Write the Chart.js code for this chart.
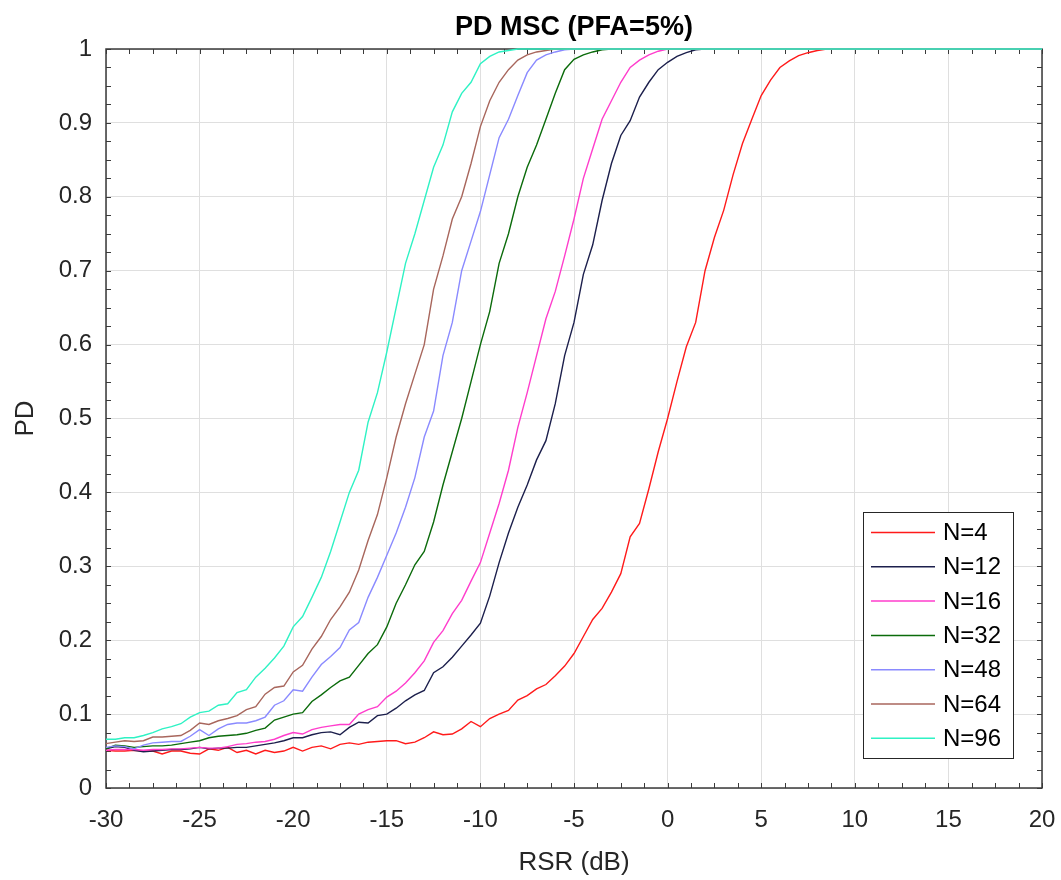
<!DOCTYPE html>
<html>
<head>
<meta charset="utf-8">
<script src="https://cdn.jsdelivr.net/npm/chart.js@4.4.1/dist/chart.umd.min.js"></script>
<style>
  body { margin:0; background:#fff; }
  #wrap { width:1061px; height:880px; position:relative; }
</style>
</head>
<body>
<div id="wrap"><canvas id="pdChart"></canvas></div>
<script>
// RSR axis (dB), 0.5 dB steps
const rsr = [
  -30,-29.5,-29,-28.5,-28,-27.5,-27,-26.5,-26,-25.5,
  -25,-24.5,-24,-23.5,-23,-22.5,-22,-21.5,-21,-20.5,
  -20,-19.5,-19,-18.5,-18,-17.5,-17,-16.5,-16,-15.5,
  -15,-14.5,-14,-13.5,-13,-12.5,-12,-11.5,-11,-10.5,
  -10,-9.5,-9,-8.5,-8,-7.5,-7,-6.5,-6,-5.5,
  -5,-4.5,-4,-3.5,-3,-2.5,-2,-1.5,-1,-0.5,
  0,0.5,1,1.5,2,2.5,3,3.5,4,4.5,
  5,5.5,6,6.5,7,7.5,8,8.5,9,9.5,
  10,10.5,11,11.5,12,12.5,13,13.5,14,14.5,
  15,15.5,16,16.5,17,17.5,18,18.5,19,19.5,
  20
];

const pdN4 = [
  .051,.050,.050,.051,.050,.050,.046,.050,.050,.047,
  .046,.053,.051,.055,.048,.051,.046,.051,.048,.050,
  .055,.050,.055,.057,.053,.059,.061,.059,.062,.063,
  .064,.064,.060,.062,.068,.076,.072,.073,.080,.090,
  .083,.094,.100,.105,.119,.125,.134,.140,.152,.165,
  .182,.205,.228,.243,.265,.290,.340,.358,.405,.455,
  .500,.550,.597,.630,.700,.745,.782,.830,.872,.905,
  .937,.958,.975,.984,.991,.995,.998,1,1,1,
  1,1,1,1,1,1,1,1,1,1,
  1,1,1,1,1,1,1,1,1,1,
  1
];
const pdN12 = [
  .053,.056,.055,.051,.049,.050,.051,.052,.052,.053,
  .055,.053,.054,.054,.055,.055,.057,.059,.061,.064,
  .068,.068,.072,.075,.076,.072,.082,.089,.088,.098,
  .100,.108,.118,.126,.132,.156,.164,.177,.192,.207,
  .223,.260,.305,.345,.380,.410,.444,.470,.520,.585,
  .630,.695,.735,.795,.845,.883,.903,.935,.955,.972,
  .982,.990,.995,.999,1,1,1,1,1,1,
  1,1,1,1,1,1,1,1,1,1,
  1,1,1,1,1,1,1,1,1,1,
  1,1,1,1,1,1,1,1,1,1,
  1
];
const pdN16 = [
  .051,.052,.052,.052,.051,.052,.052,.053,.053,.054,
  .055,.054,.054,.056,.059,.060,.062,.063,.066,.071,
  .075,.073,.079,.082,.084,.086,.086,.100,.106,.110,
  .123,.131,.142,.156,.172,.197,.213,.236,.254,.280,
  .305,.345,.385,.430,.488,.535,.585,.635,.672,.720,
  .770,.825,.865,.905,.930,.955,.975,.985,.992,.997,
  1,1,1,1,1,1,1,1,1,1,
  1,1,1,1,1,1,1,1,1,1,
  1,1,1,1,1,1,1,1,1,1,
  1,1,1,1,1,1,1,1,1,1,
  1
];
const pdN32 = [
  .053,.058,.057,.055,.056,.057,.057,.058,.060,.062,
  .064,.068,.070,.071,.072,.074,.078,.081,.092,.096,
  .100,.102,.117,.126,.136,.145,.150,.166,.182,.194,
  .218,.250,.275,.302,.320,.360,.410,.455,.500,.550,
  .600,.645,.710,.750,.800,.840,.870,.905,.940,.972,
  .986,.992,.996,.999,1,1,1,1,1,1,
  1,1,1,1,1,1,1,1,1,1,
  1,1,1,1,1,1,1,1,1,1,
  1,1,1,1,1,1,1,1,1,1,
  1,1,1,1,1,1,1,1,1,1,
  1
];
const pdN48 = [
  .055,.057,.056,.053,.058,.061,.062,.063,.063,.070,
  .079,.071,.080,.086,.088,.088,.091,.096,.112,.118,
  .133,.131,.150,.167,.178,.190,.214,.224,.258,.285,
  .315,.345,.380,.420,.475,.510,.585,.630,.700,.740,
  .780,.830,.880,.905,.937,.968,.985,.992,.996,.999,
  1,1,1,1,1,1,1,1,1,1,
  1,1,1,1,1,1,1,1,1,1,
  1,1,1,1,1,1,1,1,1,1,
  1,1,1,1,1,1,1,1,1,1,
  1,1,1,1,1,1,1,1,1,1,
  1
];
const pdN64 = [
  .060,.062,.064,.063,.064,.069,.069,.070,.071,.078,
  .088,.086,.091,.094,.098,.106,.110,.127,.136,.138,
  .157,.166,.188,.205,.228,.245,.265,.295,.335,.370,
  .420,.475,.520,.560,.600,.675,.720,.770,.800,.845,
  .895,.930,.955,.972,.985,.992,.996,.998,1,1,
  1,1,1,1,1,1,1,1,1,1,
  1,1,1,1,1,1,1,1,1,1,
  1,1,1,1,1,1,1,1,1,1,
  1,1,1,1,1,1,1,1,1,1,
  1,1,1,1,1,1,1,1,1,1,
  1
];
const pdN96 = [
  .066,.066,.068,.068,.071,.075,.080,.083,.087,.096,
  .102,.104,.112,.114,.129,.133,.150,.162,.176,.192,
  .218,.232,.258,.285,.320,.360,.400,.430,.495,.535,
  .590,.650,.710,.750,.795,.840,.870,.915,.940,.955,
  .980,.990,.996,.998,1,1,1,1,1,1,
  1,1,1,1,1,1,1,1,1,1,
  1,1,1,1,1,1,1,1,1,1,
  1,1,1,1,1,1,1,1,1,1,
  1,1,1,1,1,1,1,1,1,1,
  1,1,1,1,1,1,1,1,1,1,
  1
];

const seriesNames = ['N=4', 'N=12', 'N=16', 'N=32', 'N=48', 'N=64', 'N=96'];
const seriesValues = [pdN4, pdN12, pdN16, pdN32, pdN48, pdN64, pdN96];
const seriesColors = ['#ff1a1a', '#1c1f4c', '#ff3dcc', '#0b6b0b', '#8a8aff', '#a8665c', '#2ef2c4'];

const FONT = '"Liberation Sans", Arial, Helvetica, sans-serif';

// matlab style box with inward ticks on all four sides
const axesBox = {
  id: 'axesBox',
  beforeDatasetsDraw(chart) {
    const {ctx, chartArea: a, scales: {x, y}} = chart;
    ctx.save();
    ctx.strokeStyle = '#3a3a3a';
    ctx.lineWidth = 1;
    ctx.beginPath();
    for (let v = -30; v <= 20.001; v += 1.25) {
      const px = Math.round(x.getPixelForValue(v)) + 0.5;
      ctx.moveTo(px, a.bottom); ctx.lineTo(px, a.bottom - 5);
      ctx.moveTo(px, a.top); ctx.lineTo(px, a.top + 5);
    }
    for (let v = 0; v <= 1.0001; v += 0.025) {
      const py = Math.round(y.getPixelForValue(v)) + 0.5;
      ctx.moveTo(a.left, py); ctx.lineTo(a.left + 5, py);
      ctx.moveTo(a.right, py); ctx.lineTo(a.right - 5, py);
    }
    ctx.stroke();
    ctx.lineWidth = 1.5;
    ctx.strokeRect(a.left, a.top, a.right - a.left, a.bottom - a.top);
    ctx.restore();
  }
};

// legend box in lower right corner of the axes
const boxLegend = {
  id: 'boxLegend',
  afterDraw(chart) {
    const {ctx, chartArea: a} = chart;
    const w = 150, h = 246;
    const left = Math.round(a.right - 29 - w), top = Math.round(a.bottom - 30 - h);
    ctx.save();
    ctx.fillStyle = '#fff';
    ctx.fillRect(left, top, w, h);
    ctx.strokeStyle = '#262626';
    ctx.lineWidth = 1;
    ctx.strokeRect(left + 0.5, top + 0.5, w, h);
    ctx.font = '24px ' + FONT;
    ctx.textBaseline = 'middle';
    ctx.textAlign = 'left';
    chart.data.datasets.forEach((ds, i) => {
      const yy = top + 20.5 + i * 34.3;
      ctx.strokeStyle = ds.borderColor;
      ctx.lineWidth = 1.5;
      ctx.beginPath();
      ctx.moveTo(left + 8, yy);
      ctx.lineTo(left + 72, yy);
      ctx.stroke();
      ctx.fillStyle = '#000';
      ctx.fillText(ds.label, left + 80, yy + 1);
    });
    ctx.restore();
  }
};

const datasets = seriesValues.map((vals, i) => ({
  label: seriesNames[i],
  data: rsr.map((x, k) => ({x: x, y: vals[k]})),
  borderColor: seriesColors[i],
  backgroundColor: seriesColors[i],
  borderWidth: 1.4,
  pointRadius: 0,
  tension: 0,
  fill: false,
  clip: 4,
  order: seriesNames.length - i
}));

new Chart('pdChart', {
  type: 'line',
  data: { datasets: datasets },
  options: {
    responsive: true,
    maintainAspectRatio: false,
    animation: false,
    layout: { padding: { left: 0, right: 19, top: 0, bottom: 0 } },
    plugins: {
      legend: { display: false },
      tooltip: { enabled: false },
      title: {
        display: true,
        fullSize: false,
        text: 'PD MSC (PFA=5%)',
        color: '#000',
        font: { family: FONT, size: 27, weight: 'bold' },
        padding: { top: 11, bottom: 5.6 }
      }
    },
    scales: {
      x: {
        type: 'linear',
        min: -30,
        max: 20,
        afterFit(s) { s.height = 92; s.paddingLeft = 0; s.paddingRight = 0; },
        ticks: {
          stepSize: 5,
          padding: 18,
          color: '#262626',
          font: { family: FONT, size: 24 },
          maxRotation: 0,
          autoSkip: false
        },
        grid: { color: '#dfdfdf', lineWidth: 1, drawTicks: false },
        border: { display: false },
        title: {
          display: true,
          text: 'RSR (dB)',
          color: '#262626',
          font: { family: FONT, size: 26 },
          padding: { top: 0, bottom: 2 }
        }
      },
      y: {
        type: 'linear',
        min: 0,
        max: 1,
        afterFit(s) { s.width = 106; s.paddingTop = 0; s.paddingBottom = 0; },
        ticks: {
          stepSize: 0.1,
          padding: 14,
          color: '#262626',
          font: { family: FONT, size: 24 },
          callback: v => String(Number(v.toFixed(2)))
        },
        grid: { color: '#dfdfdf', lineWidth: 1, drawTicks: false },
        border: { display: false },
        title: {
          display: true,
          text: 'PD',
          color: '#262626',
          font: { family: FONT, size: 26 },
          padding: { top: 10, bottom: 0 }
        }
      }
    }
  },
  plugins: [axesBox, boxLegend]
});
</script>
</body>
</html>
